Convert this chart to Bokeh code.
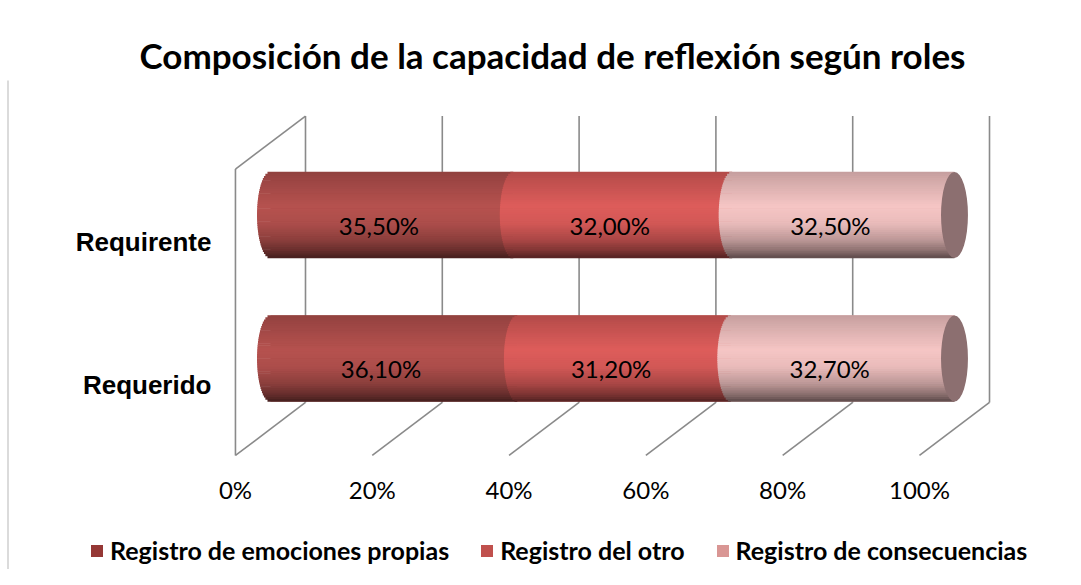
import numpy as np
from bokeh.plotting import figure
from bokeh.models import Range1d, ColumnDataSource, Legend, LegendItem, Title, BoxAnnotation
from bokeh.core.properties import value
from bokeh.embed import file_html
from bokeh.resources import INLINE

# ---------------- data ----------------
title_text = "Composición de la capacidad de reflexión según roles"
categories = ["Requerido", "Requirente"]          # bottom -> top
series_names = ["Registro de emociones propias", "Registro del otro", "Registro de consecuencias"]
emociones = [36.1, 35.5]
otro = [31.2, 32.0]
consecuencias = [32.7, 32.5]
tick_values = [0, 20, 40, 60, 80, 100]
tick_labels = ["0%", "20%", "40%", "60%", "80%", "100%"]

# ---------------- style ----------------
legend_colors = ["#953735", "#C0504D", "#D99694"]
highlight = [(182, 82, 79), (222, 93, 91), (246, 198, 197)]
cap_color = "#8C6F70"
grid_color = "#8A8A8A"

DX = 5.12        # perspective depth offset (percent units)
DY = 0.1847      # perspective depth offset (category units)
BAR_H = 0.60     # cylinder thickness (category units)
RX = 1.97        # ellipse half-width of cylinder ends (percent units)
WALL_TOP = 1.505
FLOOR = -0.491
N_STRIPS = 40

p = figure(width=1065, height=569, output_backend="svg", toolbar_location=None, tools="",
           x_range=Range1d(-39.47, 116.23), y_range=Range1d(-1.4704, 1.9373),
           x_axis_location=None, y_axis_location=None,
           min_border_left=0, min_border_right=0, min_border_bottom=0, min_border_top=80)
p.xgrid.visible = False
p.ygrid.visible = False
p.outline_line_color = None
p.background_fill_color = "white"
p.border_fill_color = "white"

p.add_layout(Title(text=title_text, align="left", offset=139, text_font="Lato",
                   text_font_size="35px", text_font_style="bold", text_color="black",
                   standoff=10), "above")

# chart-area border (top and left edges visible)
p.add_layout(BoxAnnotation(left=7.5, right=3000, top=10.5, bottom=3000,
                           left_units="canvas", right_units="canvas",
                           top_units="canvas", bottom_units="canvas",
                           fill_alpha=0, line_color="#878787", line_width=2, level="underlay"))

# ---------------- 3D walls (from ticks) ----------------
xs, ys = [], []
for t in tick_values:
    xs.append([t + DX, t + DX]); ys.append([FLOOR + DY, WALL_TOP + DY])     # back wall gridline
    xs.append([t + DX, t - DX]); ys.append([FLOOR + DY, FLOOR - DY])        # floor line
t0 = tick_values[0]
xs.append([t0 - DX, t0 - DX]); ys.append([FLOOR - DY, WALL_TOP - DY])       # side wall front edge
xs.append([t0 - DX, t0 + DX]); ys.append([WALL_TOP - DY, WALL_TOP + DY])    # side wall top edge
p.multi_line(xs=xs, ys=ys, line_color=grid_color, line_width=1.6)

# ---------------- cylinders ----------------
prof_u = [0.0, 0.10, 0.40, 0.60, 0.80, 0.92, 1.0]
prof_f = [0.80, 0.86, 1.00, 0.95, 0.76, 0.56, 0.38]

values = [emociones, otro, consecuencias]
ypos = list(range(len(categories)))
legend_items = []
h = BAR_H / N_STRIPS
starts = [0.0] * len(categories)
seg_starts = []
for si, vals in enumerate(values):
    seg_starts.append(list(starts))
    starts = [starts[i] + vals[i] for i in range(len(categories))]

for si, vals in enumerate(values):
    # flat base segment (used for the legend swatch, covered by shading)
    left = seg_starts[si]
    right = [left[i] + vals[i] for i in range(len(categories))]
    base_r = p.hbar(y=ypos, left=left, right=right, height=BAR_H,
                    fill_color=legend_colors[si], line_color=None)
    legend_items.append(LegendItem(label=series_names[si], renderers=[base_r]))
    # cylinder shading strips
    L, R, T, B, C = [], [], [], [], []
    base = highlight[si]
    for ci in range(len(categories)):
        for k in range(N_STRIPS):
            u = (k + 0.5) / N_STRIPS
            tt = 1 - 2 * u
            s = np.sqrt(max(0.0, 1 - tt * tt))
            f = np.interp(u, prof_u, prof_f)
            col = "#%02x%02x%02x" % tuple(int(min(255, c * f)) for c in base)
            top = ypos[ci] + BAR_H / 2 - k * h
            L.append(left[ci] - RX * s); R.append(right[ci])
            T.append(top + 0.002); B.append(top - h - 0.002)
            C.append(col)
    p.quad(left="left", right="right", top="top", bottom="bottom",
           source=ColumnDataSource(dict(left=L, right=R, top=T, bottom=B, color=C)),
           fill_color="color", line_color=None)

totals = [emociones[i] + otro[i] + consecuencias[i] for i in range(len(categories))]
p.ellipse(x=totals, y=ypos, width=2 * RX * 6.84, height=BAR_H,
          width_units="screen", height_units="data", fill_color=cap_color, line_color=None)

# ---------------- data labels ----------------
lx, ly, lt = [], [], []
for si, vals in enumerate(values):
    for ci in range(len(categories)):
        v = vals[ci]
        lx.append(seg_starts[si][ci] + v / 2); ly.append(ypos[ci] - 0.073)
        lt.append(("%.2f%%" % v).replace(".", ","))
p.text(x=lx, y=ly, text=lt, x_offset=-13, text_align="center", text_baseline="middle",
       text_font=value("Lato"), text_font_size="24px", text_color="black")

# ---------------- tick labels ----------------
p.text(x=[t - DX for t in tick_values], y=[FLOOR - DY - 0.237] * len(tick_values), text=tick_labels,
       text_align="center", text_baseline="middle", text_font=value("Lato"),
       text_font_size="24px", text_color="black")

# ---------------- category labels ----------------
p.text(x=[t0 - DX] * len(categories), y=[c - DY for c in ypos], text=categories,
       x_offset=-24, text_align="right", text_baseline="middle",
       text_font=value("Liberation Sans"), text_font_style="bold", text_font_size="26px",
       text_color="black")

# ---------------- legend ----------------
legend = Legend(items=legend_items, orientation="horizontal", location=(89, 4),
                glyph_width=15, glyph_height=15, label_standoff=6, spacing=30,
                padding=0, margin=0, border_line_color=None, background_fill_alpha=0,
                label_text_font="Lato", label_text_font_style="bold",
                label_text_font_size="25px", label_text_color="black", label_height=24)
p.add_layout(legend, "center")

open("out.html", "w").write(file_html(p, INLINE))
